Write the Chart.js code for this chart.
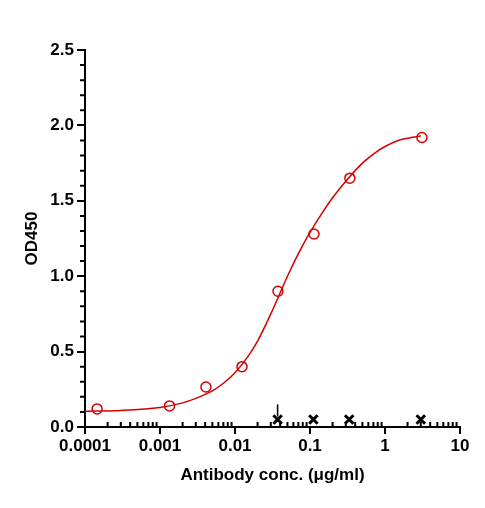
<!DOCTYPE html>
<html><head><meta charset="utf-8">
<script src="https://cdn.jsdelivr.net/npm/chart.js@4"></script>
<style>html,body{margin:0;background:#fff}#w{width:485px;height:508px}</style>
</head><body><div id="w"><canvas id="c"></canvas></div>
<script>
const concX = [0.000145, 0.00134, 0.0041, 0.0124, 0.0374, 0.113, 0.34, 3.11];
const od450 = [0.12, 0.14, 0.265, 0.40, 0.90, 1.28, 1.65, 1.92];
const fitX = [0.0001, 0.0003, 0.001, 0.002, 0.003, 0.005, 0.007, 0.01, 0.015, 0.02, 0.03, 0.04, 0.05, 0.07, 0.1, 0.15, 0.2, 0.3, 0.5, 0.7, 1, 1.5, 2, 3];
const fitY = [0.105, 0.11, 0.13, 0.16, 0.19, 0.24, 0.29, 0.36, 0.47, 0.57, 0.75, 0.89, 1.0, 1.15, 1.29, 1.43, 1.52, 1.63, 1.75, 1.81, 1.86, 1.90, 1.915, 1.93];
const ctrlX = [0.037, 0.111, 0.333, 3.0];
const ctrlY = [0.05, 0.05, 0.05, 0.05];
const arrowX = [0.037];
const xTicks = [0.0001, 0.001, 0.01, 0.1, 1, 10];
const xTickLabels = ['0.0001', '0.001', '0.01', '0.1', '1', '10'];

const font = {family: 'Liberation Sans, Arial', weight: 'bold', size: 17};
const minor = {
  id: 'minor',
  afterDraw(ch) {
    const c = ch.ctx, x = ch.scales.x, y = ch.scales.y;
    c.save(); c.strokeStyle = '#000'; c.lineWidth = 2;
    c.beginPath();
    for (let v = 0; v <= 25; v++) { if (v % 5 === 0) continue;
      const py = y.getPixelForValue(v / 10); c.moveTo(x.left - 5, py); c.lineTo(x.left, py); }
    for (let d = -4; d < 1; d++) for (let m = 2; m <= 9; m++) {
      const px = x.getPixelForValue(m * Math.pow(10, d)); c.moveTo(px, y.bottom); c.lineTo(px, y.bottom - 5); }
    c.stroke();
    c.lineWidth = 1.5; c.beginPath();
    arrowX.forEach(v => { const px = x.getPixelForValue(v);
      c.moveTo(px, y.getPixelForValue(0.15)); c.lineTo(px, y.getPixelForValue(0.07)); });
    c.stroke(); c.restore();
  }
};
new Chart(document.getElementById('c'), {
  type: 'scatter',
  data: { datasets: [
    { data: fitX.map((v, i) => ({x: v, y: fitY[i]})), showLine: true, borderColor: '#d40000', borderWidth: 1.5,
      pointRadius: 0, cubicInterpolationMode: 'monotone', order: 2 },
    { data: concX.map((v, i) => ({x: v, y: od450[i]})), pointStyle: 'circle', pointRadius: 5,
      borderColor: '#d40000', backgroundColor: 'rgba(0,0,0,0)', borderWidth: 1.5, order: 1 },
    { data: ctrlX.map((v, i) => ({x: v, y: ctrlY[i]})), pointStyle: 'crossRot', pointRadius: 6,
      borderColor: '#000', borderWidth: 3, order: 0 }
  ]},
  options: {
    responsive: true, maintainAspectRatio: false, animation: false,
    layout: {padding: {top: 50, right: 25, left: 18, bottom: 18}},
    plugins: {legend: {display: false}, tooltip: {enabled: false}},
    scales: {
      x: { type: 'logarithmic', min: 0.0001, max: 10,
        afterBuildTicks: s => { s.ticks = xTicks.map(v => ({value: v})); },
        afterFit: s => { s.height = 63; },
        ticks: {color: '#000', font, maxRotation: 0, padding: 2,
          callback: (v) => { const i = xTicks.findIndex(t => Math.abs(t - v) / t < 1e-6); return i >= 0 ? xTickLabels[i] : ''; }},
        grid: {drawOnChartArea: false, color: '#000', lineWidth: 2, tickLength: 7},
        border: {color: '#000', width: 2},
        title: {display: true, text: 'Antibody conc. (μg/ml)', color: '#000', font, padding: {top: 4}}
      },
      y: { min: 0, max: 2.5,
        afterFit: s => { s.width = 67; },
        ticks: {stepSize: 0.5, color: '#000', font, padding: 3, callback: v => v.toFixed(1)},
        grid: {drawOnChartArea: false, color: '#000', lineWidth: 2, tickLength: 8},
        border: {color: '#000', width: 2},
        title: {display: true, text: 'OD450', color: '#000', font, padding: {bottom: 6}}
      }
    }
  },
  plugins: [minor]
});
</script></body></html>
